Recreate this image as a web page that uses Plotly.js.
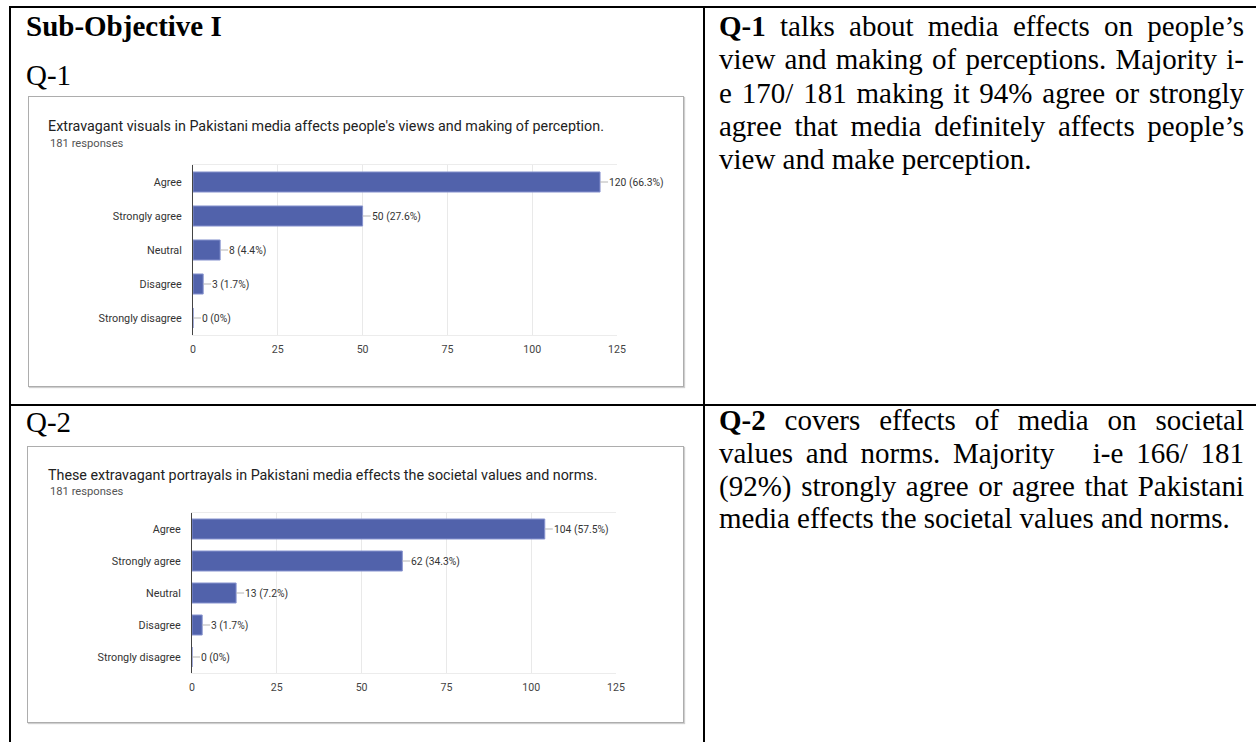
<!DOCTYPE html>
<html>
<head>
<meta charset="utf-8">
<script src="https://cdn.plot.ly/plotly-3.0.1.min.js"></script>
<style>
  html, body { margin: 0; padding: 0; background: #fff; }
  body { width: 1256px; height: 742px; position: relative; overflow: hidden; }
  .rule { position: absolute; background: #000; }
  .serif { position: absolute; font-family: "Liberation Serif", "Times New Roman", serif; font-size: 29px; color: #000; white-space: pre; }
  .para { position: absolute; left: 719px; width: 525px; font-family: "Liberation Serif", "Times New Roman", serif; font-size: 29px; color: #000; }
  .para div { white-space: pre-wrap; text-align: justify; text-align-last: justify; }
  .para div.last { text-align-last: left; }
  .box { position: absolute; border: 1px solid #adadad; box-shadow: 1px 1px 1px #cfcfcf; background: #fff; }
</style>
</head>
<body>
<!-- table rules -->
<div class="rule" style="left:9px;top:6px;width:1247px;height:2px;"></div>
<div class="rule" style="left:9px;top:6px;width:2px;height:736px;"></div>
<div class="rule" style="left:703px;top:6px;width:2px;height:736px;"></div>
<div class="rule" style="left:9px;top:404px;width:1247px;height:2px;"></div>

<div class="serif" style="left:26px;top:10px;line-height:33px;font-weight:bold;">Sub-Objective I</div>
<div class="serif" style="left:26px;top:59px;line-height:33px;">Q-1</div>
<div class="serif" style="left:26px;top:406px;line-height:33px;">Q-2</div>

<div class="para" style="top:10px;line-height:33.3px;">
  <div><b>Q-1</b> talks about media effects on people’s</div>
  <div>view and making of perceptions. Majority i-</div>
  <div>e 170/ 181 making it 94% agree or strongly</div>
  <div>agree that media definitely affects people’s</div>
  <div class="last">view and make perception.</div>
</div>
<div class="para" style="top:404px;line-height:32.8px;">
  <div><b>Q-2</b> covers effects of media on societal</div>
  <div>values and norms. Majority   i-e 166/ 181</div>
  <div>(92%) strongly agree or agree that Pakistani</div>
  <div class="last">media effects the societal values and norms.</div>
</div>

<div id="chart1" class="box" style="left:28px;top:96px;width:654px;height:289px;"></div>
<div id="chart2" class="box" style="left:27px;top:446px;width:655px;height:275px;"></div>

<script>
// ---- data ----
const categories = ['Agree', 'Strongly agree', 'Neutral', 'Disagree', 'Strongly disagree'];
const q1Values = [120, 50, 8, 3, 0];
const q1Percents = ['66.3%', '27.6%', '4.4%', '1.7%', '0%'];
const q2Values = [104, 62, 13, 3, 0];
const q2Percents = ['57.5%', '34.3%', '7.2%', '1.7%', '0%'];
const xTickValues = [0, 25, 50, 75, 100, 125];
const q1Title = "Extravagant visuals in Pakistani media affects people's views and making of perception.";
const q2Title = 'These extravagant portrayals in Pakistani media effects the societal values and norms.';
const responsesText = '181 responses';

const BAR_COLOR = '#5162ab';
const FONT = 'Roboto, Arial, sans-serif';

function drawChart(divId, values, percents, title, cfg) {
  const W = cfg.width, H = cfg.height;
  const m = cfg.margin;
  const plotW = W - m.l - m.r, plotH = H - m.t - m.b;
  const trace = {
    type: 'bar',
    orientation: 'h',
    x: values,
    y: categories,
    marker: { color: BAR_COLOR, line: { color: '#8793cf', width: 1 } },
    hoverinfo: 'skip'
  };
  const annotations = values.map((v, i) => ({
    x: v, y: categories[i], xref: 'x', yref: 'y',
    text: v + ' (' + percents[i] + ')',
    showarrow: true, arrowhead: 0, arrowwidth: 1, arrowcolor: '#b5b5b5',
    ax: 8, ay: 0, xanchor: 'left', standoff: 0, borderpad: 0,
    font: { family: FONT, size: 10.3, color: '#333' }
  }));
  annotations.push({
    xref: 'paper', yref: 'paper',
    x: (cfg.subX - m.l) / plotW, y: 1 + (m.t - cfg.subY) / plotH,
    xanchor: 'left', yanchor: 'middle', showarrow: false,
    text: responsesText,
    font: { family: FONT, size: 11.2, color: '#555' }
  });
  const layout = {
    width: W, height: H,
    margin: m,
    paper_bgcolor: '#fff', plot_bgcolor: '#fff',
    showlegend: false,
    bargap: cfg.bargap,
    title: {
      text: title,
      xref: 'container', yref: 'container',
      x: cfg.titleX / W, xanchor: 'left',
      y: 1 - cfg.titleY / H, yanchor: 'middle',
      font: { family: FONT, size: 14.3, color: '#222' }
    },
    xaxis: {
      range: [0, 125], tickvals: xTickValues, ticktext: xTickValues.map(String),
      showgrid: true, gridcolor: '#e9e9e9', gridwidth: 1,
      zeroline: false, showline: true, linecolor: '#ececec', mirror: true,
      ticks: '', ticklabelstandoff: 4,
      tickfont: { family: FONT, size: 10.6, color: '#444' },
      fixedrange: true
    },
    yaxis: {
      type: 'category', categoryorder: 'array', categoryarray: categories,
      autorange: 'reversed',
      showgrid: false, zeroline: false,
      showline: true, linecolor: '#444', linewidth: 1,
      ticks: '', ticklabelstandoff: 8,
      tickfont: { family: FONT, size: 10.8, color: '#333' },
      fixedrange: true
    },
    annotations: annotations
  };
  Plotly.newPlot(divId, [trace], layout, { displayModeBar: false, staticPlot: true });
}

drawChart('chart1', q1Values, q1Percents, q1Title, {
  width: 654, height: 289,
  margin: { l: 164, r: 66, t: 68, b: 51, pad: 0 },
  bargap: 0.41,
  titleX: 19, titleY: 29,
  subX: 19, subY: 46
});
drawChart('chart2', q2Values, q2Percents, q2Title, {
  width: 655, height: 275,
  margin: { l: 164, r: 67, t: 66, b: 49, pad: 0 },
  bargap: 0.375,
  titleX: 20, titleY: 28,
  subX: 20, subY: 45
});
</script>
</body>
</html>
